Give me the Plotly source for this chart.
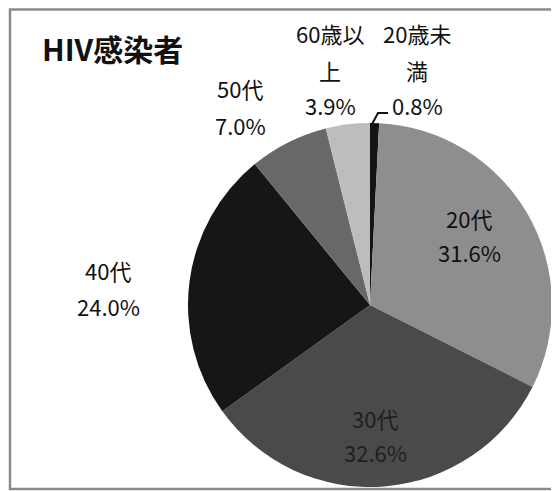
import plotly.graph_objects as go

title_text = "HIV感染者"
categories = ["20歳未満", "20代", "30代", "40代", "50代", "60歳以上"]
values = [0.8, 31.6, 32.6, 24.0, 7.0, 3.9]
colors = ["#141414", "#8e8e8e", "#4a4a4a", "#161616", "#686868", "#bdbdbd"]
# label lines as displayed (category text is wrapped as in the original)
label_lines = {
    "20歳未満": ["20歳未", "満"],
    "20代": ["20代"],
    "30代": ["30代"],
    "40代": ["40代"],
    "50代": ["50代"],
    "60歳以上": ["60歳以", "上"],
}

W, H = 559, 491
OFF = 8  # page body margin offset
cx, cy, r = 370 - OFF, 305 - OFF, 182

fig = go.Figure()
fig.add_trace(go.Pie(
    labels=categories, values=values, sort=False, direction="clockwise", rotation=0,
    marker=dict(colors=colors, line=dict(width=0)),
    textinfo="none", hoverinfo="label+percent", showlegend=False,
    domain=dict(x=[(cx - r) / W, (cx + r) / W], y=[(H - cy - r) / H, (H - cy + r) / H]),
))

# label placement (page pixel positions of line centres, top-down)
label_pos = {
    "20歳未満": (417, [33, 70], 105),
    "20代": (469, [218], 252),
    "30代": (375, [418], 452),
    "40代": (108, [270], 306),
    "50代": (240, [88], 125),
    "60歳以上": (330, [33, 70], 105),
}
label_color = {"30代": "#202020"}

font_family = "Noto Sans CJK JP"
ann = []
def px(x, y):
    return (x - OFF) / W, 1 - (y - OFF) / H

for cat, v in zip(categories, values):
    x, ys, yp = label_pos[cat]
    col = label_color.get(cat, "#111111")
    for line, y in zip(label_lines[cat], ys):
        ax, ay = px(x, y)
        ann.append(dict(x=ax, y=ay, xref="paper", yref="paper", text=line, showarrow=False,
                        font=dict(family=font_family, size=22, color=col), xanchor="center", yanchor="middle"))
    ax, ay = px(x, yp)
    ann.append(dict(x=ax, y=ay, xref="paper", yref="paper", text=f"{v:.1f}%", showarrow=False,
                    font=dict(family=font_family, size=22, color=col), xanchor="center", yanchor="middle"))

tx, ty = px(40, 48)
ann.append(dict(x=tx, y=ty, xref="paper", yref="paper", text=f"<b>{title_text}</b>", showarrow=False,
                font=dict(family=font_family, size=30, color="#111111"), xanchor="left", yanchor="middle"))

shapes = []
# chart border
b0 = px(10, 9.5); b1 = px(600, 489)
shapes.append(dict(type="rect", xref="paper", yref="paper", x0=b0[0], x1=b1[0], y0=b1[1], y1=b0[1],
                   line=dict(color="#8a8a8a", width=2.5), fillcolor="rgba(0,0,0,0)"))
# leader line for the small slice
p1 = px(388, 113); p2 = px(378, 113); p3 = px(371, 126)
shapes.append(dict(type="path", xref="paper", yref="paper",
                   path=f"M {p1[0]} {p1[1]} L {p2[0]} {p2[1]} L {p3[0]} {p3[1]}",
                   line=dict(color="#111111", width=2)))

fig.update_layout(width=W, height=H, margin=dict(l=0, r=0, t=0, b=0),
                  paper_bgcolor="white", plot_bgcolor="white",
                  annotations=ann, shapes=shapes)
fig.write_html("out.html")
